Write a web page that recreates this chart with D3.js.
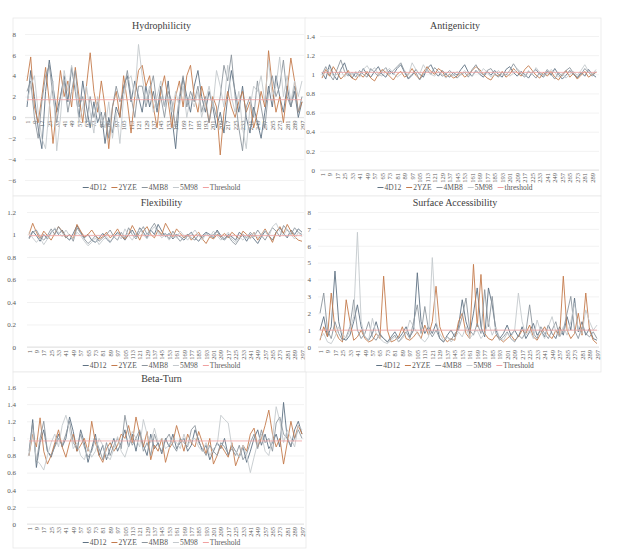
<!DOCTYPE html>
<html>
<head>
<meta charset="utf-8">
<script src="https://cdn.jsdelivr.net/npm/d3@7"></script>
<style>
  body { margin: 0; background: #fff; }
  text { font-family: "Liberation Serif", "Times New Roman", serif; }
</style>
</head>
<body>
<div id="plot"></div>
<script>
var width = 636, height = 560;

var seriesNames = ["4D12", "2YZE", "4MB8", "5M98"];
var colors = ["#5f7283", "#c47a4c", "#8c959d", "#c4c9cd"];
var thresholdColor = "#f0a0a0";

var residues = d3.range(1, 298, 4);      // 1..297
var antiResidues = d3.range(1, 294, 4);  // 1..293
var xLabels = d3.range(1, 298, 8);
var antiLabels = d3.range(1, 290, 8);

// ---- Hydrophilicity
var hydro4D12 = [1.0, 4.5, 2.0, -1.0, -3.0, 2.5, 5.5, 3.0, 0.5, 2.0, 4.0, 1.5, 4.8, 2.5, 0.0,
  3.5, 1.0, -1.0, 1.5, -0.5, 0.5, -2.5, 0.0, -1.5, 1.0, 0.0, 3.0, 4.0, 1.5, 3.5,
  2.0, 0.5, 3.0, 1.0, 2.5, 0.5, 3.0, 1.0, 3.5, 0.0, -3.0, 1.5, 3.8, 2.0, 0.5,
  3.0, 4.5, 2.0, 0.5, 2.5, 1.0, -1.0, 0.5, -1.5, 2.0, 4.5, 2.5, 0.5, 3.0, 0.0,
  -1.5, 1.0, -0.5, -2.0, 0.5, 3.0, 1.0, 4.0, 2.0, 0.5, 3.0, 1.0, 2.5, 0.0, 1.5];
var hydro2YZE = [3.5, 5.8, 1.0, -0.5, 2.0, 4.8, 1.5, -2.5, 1.0, 4.5, 2.0, 3.5, 1.0, 4.8, 2.0,
  -0.5, 3.0, 6.2, 2.5, 0.5, 3.5, 1.0, -3.0, 1.0, 2.5, 0.0, 4.0, 1.5, -1.5, 2.0,
  4.5, 5.0, 3.0, 4.0, 1.0, -1.0, 2.5, 4.0, 1.5, -1.0, 2.0, 3.5, 1.0, 4.0, 5.0,
  2.0, 0.5, 3.0, 1.5, -0.5, 2.0, 1.0, -3.6, 0.5, 2.5, 1.0, 0.0, 1.5, 2.5, 0.5,
  1.5, -1.0, 0.5, 2.5, 1.0, 6.4, 3.0, 0.5, 2.0, -0.5, 2.5, 5.7, 3.5, 0.5, 1.5];
var hydro4MB8 = [2.5, 3.5, 0.0, -2.0, 1.5, 4.0, 5.0, 2.0, -0.5, 2.0, 3.5, 0.5, 2.5, 4.5, 1.0,
  2.0, -0.5, 2.0, 0.0, 1.5, -1.0, 0.5, -2.0, 1.0, 3.0, 1.5, 2.5, 4.5, 2.0, 0.0,
  3.0, 3.0, 1.0, 2.5, 4.0, 1.0, 2.0, 0.0, 2.5, 1.5, -1.0, 2.0, 4.0, 1.0, 2.5,
  1.5, 3.0, 0.5, 2.0, -0.5, 1.5, 0.0, 2.0, 5.0, 3.5, 6.0, 2.0, -1.0, -3.2, 1.0,
  2.0, 0.0, 3.5, 1.0, -1.0, 2.5, 4.0, 2.0, 3.0, 5.5, 2.0, 1.0, 3.0, 0.5, 2.0];
var hydro5M98 = [1.5, 3.0, 4.0, 0.5, -2.0, -3.0, 1.0, 3.5, -3.2, 0.0, 4.5, 2.5, 5.0, 3.0, -0.5,
  1.0, 3.0, 0.5, -1.5, 2.0, 0.0, -1.0, 1.5, -2.0, 0.5, -2.5, 2.0, 3.5, 4.0, 2.0,
  7.0, 4.0, 1.5, 3.0, 0.5, 2.0, 3.5, 1.0, 2.0, 0.5, 2.5, 1.0, 3.0, 0.0, 2.0,
  1.0, 2.5, 0.0, 1.5, 3.0, 1.0, 4.5, 3.0, 1.0, 5.0, 2.0, 0.5, 2.5, -1.0, -3.0,
  1.0, 3.0, 2.5, 4.0, 1.5, 5.5, 2.0, 3.0, 5.8, 2.0, 4.0, 1.5, 3.5, 2.0, 3.5];
var hydroThreshold = 1.7;

// ---- Antigenicity
var anti4D12 = [1.02, 0.95, 1.10, 1.00, 0.94, 1.05, 1.12, 1.00, 0.96, 1.02, 0.98, 1.06, 1.00, 0.97, 1.03,
  1.08, 1.00, 0.97, 1.04, 1.00, 1.06, 1.10, 1.02, 0.95, 0.99, 1.05, 1.00, 0.97, 1.06, 1.10,
  1.02, 0.98, 1.04, 1.00, 0.97, 1.02, 0.99, 1.05, 1.10, 1.02, 0.98, 1.04, 1.00, 0.97, 1.03,
  0.99, 1.04, 1.00, 0.97, 1.05, 1.08, 1.02, 0.98, 1.03, 1.00, 0.96, 1.02, 1.05, 1.00, 0.97,
  1.03, 0.99, 1.06, 1.00, 0.95, 0.99, 1.04, 1.00, 0.96, 1.02, 0.98, 1.05, 1.00, 0.97];
var anti2YZE = [0.96, 1.05, 0.98, 1.08, 1.02, 0.95, 0.99, 1.04, 0.96, 0.94, 1.00, 0.97, 1.03, 0.96, 0.93,
  1.00, 1.05, 1.02, 0.98, 0.94, 1.00, 1.03, 0.97, 1.00, 1.06, 0.99, 0.95, 1.02, 1.08, 1.03,
  1.00, 1.06, 1.03, 0.97, 1.00, 0.96, 0.98, 1.02, 0.97, 1.00, 1.04, 1.08, 1.05, 1.00, 0.96,
  0.94, 1.00, 0.98, 1.03, 0.97, 1.00, 1.06, 1.02, 0.98, 1.05, 1.09, 1.04, 0.99, 0.96, 1.02,
  0.98, 1.03, 0.97, 0.94, 1.00, 1.04, 0.97, 1.01, 0.95, 0.99, 1.03, 0.97, 1.00, 1.02];
var anti4MB8 = [1.00, 1.08, 1.00, 0.94, 1.05, 1.15, 1.03, 0.98, 1.02, 0.97, 1.04, 1.00, 0.97, 1.06, 1.02,
  0.98, 1.03, 1.07, 1.00, 1.04, 1.08, 1.12, 1.03, 0.96, 1.00, 1.02, 0.94, 1.00, 1.05, 1.00,
  1.07, 1.03, 0.98, 1.00, 1.04, 1.00, 0.96, 1.00, 1.02, 0.97, 1.05, 1.10, 1.03, 0.99, 1.04,
  1.06, 1.00, 0.97, 1.02, 0.99, 1.04, 1.11, 1.05, 1.00, 0.97, 1.03, 1.00, 0.96, 1.02, 0.99,
  1.05, 1.00, 0.95, 1.02, 0.98, 1.04, 1.07, 1.01, 0.97, 1.00, 1.06, 1.02, 0.98, 1.03];
var anti5M98 = [0.98, 1.02, 1.06, 0.98, 1.00, 1.04, 0.97, 1.02, 0.99, 1.03, 0.97, 1.05, 1.09, 1.03, 1.07,
  1.00, 0.98, 1.03, 1.06, 1.01, 0.97, 1.00, 1.04, 0.99, 1.12, 1.05, 1.00, 1.10, 1.03, 1.00,
  0.98, 1.03, 1.00, 0.96, 1.01, 0.98, 1.03, 0.99, 1.04, 1.00, 0.98, 1.03, 1.00, 1.06, 1.02,
  0.97, 1.00, 1.04, 0.99, 1.02, 0.98, 1.01, 1.06, 1.02, 0.98, 1.04, 1.00, 1.07, 1.02, 0.98,
  1.00, 1.05, 1.02, 0.97, 1.01, 0.96, 1.00, 1.03, 0.99, 1.04, 1.10, 1.03, 1.00, 1.05];
var antiThreshold = 1.02;

// ---- Flexibility
var flex4D12 = [0.97, 1.03, 0.99, 0.94, 1.00, 0.96, 1.02, 1.05, 1.00, 1.04, 0.98, 0.95, 1.01, 1.08, 1.02,
  0.97, 1.00, 0.95, 0.93, 0.97, 1.01, 0.96, 0.93, 0.98, 1.02, 0.99, 0.95, 1.00, 1.04, 0.98,
  1.06, 1.02, 0.97, 1.04, 1.00, 1.09, 1.03, 0.98, 1.01, 0.96, 1.00, 0.98, 0.95, 0.99, 1.02,
  0.97, 0.94, 0.99, 1.02, 1.00, 0.97, 1.04, 0.99, 0.96, 1.00, 0.98, 0.95, 1.02, 0.99, 0.94,
  1.00, 0.96, 0.92, 0.98, 1.03, 0.99, 0.95, 1.02, 1.06, 1.01, 0.97, 1.04, 1.00, 1.05, 1.02];
var flex2YZE = [1.00, 1.10, 1.02, 0.96, 1.03, 0.99, 0.95, 1.01, 1.07, 1.03, 0.97, 1.00, 0.96, 1.09, 1.03,
  0.98, 1.00, 1.04, 0.99, 0.96, 0.98, 1.02, 0.97, 1.00, 1.05, 0.99, 0.96, 1.00, 1.08, 1.02,
  0.95, 1.03, 1.07, 1.00, 0.97, 1.04, 1.00, 1.10, 1.04, 0.98, 1.05, 1.01, 0.97, 1.00, 0.95,
  0.99, 1.02, 0.96, 0.92, 0.98, 0.96, 1.00, 0.98, 1.01, 0.97, 1.02, 0.99, 0.96, 1.03, 1.00,
  0.97, 1.02, 0.95, 1.00, 1.05, 0.99, 0.93, 1.02, 1.07, 1.01, 1.09, 1.03, 0.98, 0.95, 0.94];
var flex4MB8 = [0.96, 1.02, 1.04, 0.98, 0.95, 0.99, 1.05, 1.00, 1.07, 1.02, 0.97, 1.00, 0.94, 1.06, 1.01,
  0.96, 0.92, 0.95, 0.99, 0.94, 0.97, 1.00, 1.04, 0.98, 0.95, 1.02, 0.97, 1.06, 1.00, 0.96,
  1.02, 1.07, 1.00, 1.05, 1.10, 1.03, 0.99, 1.01, 0.96, 1.03, 0.98, 0.94, 0.98, 1.00, 0.97,
  0.95, 1.00, 0.97, 1.01, 0.98, 1.00, 1.03, 0.97, 0.95, 0.99, 0.94, 0.91, 0.96, 1.00, 0.97,
  1.02, 0.98, 1.04, 0.99, 0.95, 1.01, 1.06, 1.03, 0.98, 1.08, 1.04, 1.00, 1.06, 1.02, 1.00];
var flex5M98 = [1.02, 0.97, 0.93, 0.97, 0.91, 0.96, 1.01, 1.06, 1.02, 0.98, 1.04, 0.99, 0.96, 1.02, 0.99,
  0.94, 0.90, 0.93, 0.97, 0.91, 0.95, 0.98, 0.94, 0.97, 1.01, 0.96, 1.05, 0.99, 0.95, 1.01,
  1.05, 1.00, 0.96, 1.03, 1.07, 1.01, 0.97, 1.00, 0.95, 1.00, 0.97, 1.03, 0.99, 0.95, 1.00,
  1.04, 0.99, 0.95, 1.01, 0.98, 1.03, 0.99, 0.95, 0.98, 1.02, 0.96, 0.93, 0.98, 0.95, 0.99,
  0.96, 1.02, 0.97, 1.00, 1.04, 0.98, 1.07, 1.10, 1.03, 0.99, 1.05, 1.00, 0.96, 1.02, 0.98];
var flexThreshold = 0.99;

// ---- Surface Accessibility
var surf4D12 = [1.0, 1.8, 0.6, 1.2, 4.5, 1.5, 0.5, 0.4, 0.7, 1.5, 2.5, 1.2, 0.6, 0.4, 0.8,
  1.5, 0.7, 0.5, 0.3, 0.6, 0.9, 0.5, 0.8, 1.2, 0.6, 1.0, 4.4, 1.5, 0.8, 1.2,
  0.8, 1.4, 0.5, 0.3, 0.7, 1.0, 0.6, 1.2, 2.8, 1.5, 0.8, 2.0, 3.5, 1.2, 0.6,
  3.5, 2.5, 1.0, 0.5, 0.8, 1.3, 0.7, 1.0, 0.6, 1.2, 0.5, 0.9, 1.4, 0.7, 1.0,
  0.6, 1.3, 0.8, 0.5, 1.2, 0.7, 1.8, 1.0, 2.9, 0.9, 1.5, 0.7, 1.1, 0.5, 0.4];
var surf2YZE = [0.4, 1.2, 0.6, 3.2, 1.0, 0.5, 0.3, 2.8, 1.5, 0.4, 0.6, 1.0, 0.5, 0.3, 0.4,
  0.8, 0.5, 4.2, 1.0, 0.3, 0.4, 0.6, 1.2, 0.5, 0.4, 0.6, 0.9, 0.5, 1.3, 0.7,
  1.5, 3.6, 1.2, 0.6, 0.3, 0.5, 0.4, 1.5, 2.0, 0.8, 0.5, 4.9, 1.2, 4.3, 0.8,
  0.5, 0.4, 0.7, 0.5, 0.3, 0.5, 0.7, 0.4, 0.6, 1.0, 0.8, 1.3, 0.6, 0.4, 0.8,
  1.2, 0.7, 0.5, 1.0, 0.6, 4.2, 1.0, 0.5, 0.8, 2.0, 0.7, 3.2, 1.0, 0.4, 0.2];
var surf4MB8 = [2.0, 3.2, 1.0, 0.5, 1.5, 0.8, 0.4, 0.6, 1.2, 2.8, 1.0, 0.5, 0.8, 1.5, 0.6,
  0.4, 0.8, 0.5, 0.3, 0.5, 0.7, 0.3, 0.6, 0.9, 0.5, 1.5, 2.5, 0.8, 2.4, 1.0,
  0.6, 1.0, 0.5, 0.3, 0.6, 0.4, 0.8, 1.0, 1.8, 2.9, 1.0, 0.7, 1.4, 0.8, 3.4,
  1.2, 3.0, 0.8, 0.4, 0.6, 0.9, 0.5, 0.3, 0.7, 0.5, 0.9, 2.5, 0.8, 0.5, 1.2,
  0.8, 0.5, 1.0, 1.5, 0.6, 1.0, 2.0, 3.0, 1.0, 0.5, 1.2, 0.8, 0.6, 0.9, 0.5];
var surf5M98 = [0.5, 0.8, 0.3, 0.2, 0.6, 1.2, 0.8, 0.5, 1.0, 1.8, 6.8, 1.5, 0.6, 0.4, 1.7,
  0.8, 0.5, 0.3, 0.2, 0.4, 0.6, 0.3, 0.5, 0.8, 1.6, 1.2, 0.8, 0.5, 0.3, 0.6,
  5.3, 1.5, 0.8, 0.4, 0.6, 0.3, 0.5, 0.9, 0.6, 1.2, 0.5, 0.8, 1.0, 0.5, 0.8,
  1.5, 0.7, 1.2, 0.5, 0.4, 0.8, 0.6, 1.0, 3.2, 1.5, 0.7, 1.0, 0.5, 1.6, 0.9,
  0.5, 1.2, 1.8, 0.9, 0.6, 1.2, 0.7, 1.5, 2.6, 1.0, 0.8, 2.2, 1.5, 1.0, 1.3];
var surfThreshold = 1.0;

// ---- Beta-Turn
var beta4D12 = [0.80, 1.22, 0.66, 0.95, 1.10, 0.85, 0.78, 0.92, 1.05, 0.90, 1.00, 1.25, 1.08, 0.85, 1.10,
  0.95, 0.72, 0.88, 1.05, 0.80, 0.92, 0.75, 0.88, 1.00, 0.85, 0.95, 1.10, 0.90, 1.05, 0.85,
  1.08, 0.92, 0.80, 1.05, 0.88, 0.95, 0.82, 1.00, 0.90, 1.05, 0.88, 0.95, 1.00, 0.85, 0.92,
  1.10, 0.98, 0.85, 0.92, 0.75, 0.85, 0.95, 0.88, 1.00, 0.80, 0.92, 0.85, 0.78, 0.90, 0.72,
  0.85, 1.00, 1.10, 0.92, 1.05, 0.88, 0.95, 1.05, 0.90, 1.42, 1.00, 0.90, 1.10, 1.20, 1.05];
var beta2YZE = [0.80, 1.05, 0.90, 1.24, 0.85, 0.70, 0.80, 0.95, 1.10, 0.90, 0.78, 0.95, 1.05, 0.85, 0.92,
  1.00, 0.85, 1.20, 0.95, 0.80, 0.72, 0.88, 0.95, 0.85, 0.92, 1.05, 1.00, 1.15, 0.95, 1.25,
  1.05, 0.90, 1.08, 0.75, 0.92, 0.85, 1.00, 0.72, 0.88, 0.95, 1.15, 1.00, 0.85, 1.05, 0.95,
  0.90, 1.08, 0.95, 0.82, 1.00, 0.70, 0.80, 0.92, 0.85, 0.78, 0.95, 0.68, 0.80, 0.92, 0.85,
  1.05, 1.12, 0.90, 1.00, 1.15, 1.33, 1.05, 0.90, 1.00, 0.70, 0.95, 1.20, 1.00, 1.15, 1.05];
var beta4MB8 = [0.85, 1.18, 0.72, 1.00, 1.20, 0.85, 0.80, 0.90, 1.00, 0.92, 1.05, 1.20, 0.95, 0.88, 1.05,
  0.90, 0.78, 0.85, 1.00, 0.88, 0.75, 0.95, 0.80, 0.92, 1.00, 0.88, 1.27, 1.05, 0.92, 1.00,
  1.10, 0.85, 0.95, 0.80, 1.05, 0.92, 0.85, 0.98, 1.05, 0.92, 0.85, 1.00, 0.95, 0.90, 1.10,
  1.15, 0.95, 0.88, 0.80, 0.92, 0.85, 0.80, 0.95, 0.90, 0.82, 0.88, 0.80, 0.92, 0.75, 0.82,
  0.95, 1.05, 0.88, 1.10, 0.95, 1.00, 0.85, 1.18, 1.25, 1.05, 1.00, 0.92, 1.00, 1.10, 1.00];
var beta5M98 = [0.80, 1.10, 0.75, 0.70, 0.63, 0.80, 0.95, 1.05, 0.90, 1.15, 1.27, 1.10, 0.88, 0.95, 0.80,
  0.75, 0.90, 0.78, 0.85, 1.00, 0.92, 0.80, 0.75, 0.88, 1.02, 0.85, 0.78, 0.92, 1.08, 1.00,
  0.90, 1.22, 1.05, 0.95, 1.12, 0.95, 1.00, 0.88, 0.92, 1.00, 0.95, 0.88, 1.05, 0.92, 0.98,
  1.00, 0.90, 0.85, 0.95, 0.80, 0.88, 0.92, 1.27, 1.22, 1.18, 0.90, 0.85, 0.78, 0.92, 0.80,
  0.60, 0.78, 0.95, 1.05, 0.85, 0.80, 1.00, 1.37, 1.20, 0.95, 1.10, 1.00, 0.90, 1.15, 1.10];
var betaThreshold = 0.97;

// panel layout (chart boxes like the spreadsheet export)
var panels = [
  { title: "Hydrophilicity", box: [13, 18, 293, 178], titleY: 29,
    px: [27, 302], py: [180, 34], yDomain: [-6, 8], yTicks: d3.range(-6, 9, 2), fmt: d3.format("d"),
    labelX: 18, xAxisAt: 0, legendY: 190, thName: "Threshold",
    x: residues, labels: xLabels, domainX: [1, 297],
    series: [hydro4D12, hydro2YZE, hydro4MB8, hydro5M98], threshold: hydroThreshold },
  { title: "Antigenicity", box: [305, 18, 296, 178], titleY: 29,
    px: [322, 597], py: [170, 36], yDomain: [0, 1.4], yTicks: d3.range(0, 1.41, 0.2), fmt: d3.format(".1~f"),
    labelX: 317, xAxisAt: 0, legendY: 190, thName: "threshold",
    x: antiResidues, labels: antiLabels, domainX: [1, 294],
    series: [anti4D12, anti2YZE, anti4MB8, anti5M98], threshold: antiThreshold },
  { title: "Flexibility", box: [13, 196, 293, 176], titleY: 206,
    px: [29, 302], py: [347, 212], yDomain: [0, 1.2], yTicks: d3.range(0, 1.21, 0.2), fmt: d3.format(".1~f"),
    labelX: 18, xAxisAt: 0, legendY: 368, thName: "Threshold",
    x: residues, labels: xLabels, domainX: [1, 297],
    series: [flex4D12, flex2YZE, flex4MB8, flex5M98], threshold: flexThreshold },
  { title: "Surface Accessibility", box: [305, 196, 296, 176], titleY: 206,
    px: [320, 597], py: [347, 212], yDomain: [0, 8], yTicks: d3.range(0, 9, 1), fmt: d3.format("d"),
    labelX: 313, xAxisAt: 0, legendY: 368, thName: "Threshold",
    x: residues, labels: xLabels, domainX: [1, 297],
    series: [surf4D12, surf2YZE, surf4MB8, surf5M98], threshold: surfThreshold },
  { title: "Beta-Turn", box: [13, 372, 293, 176], titleY: 382,
    px: [29, 302], py: [524, 387], yDomain: [0, 1.6], yTicks: d3.range(0, 1.61, 0.2), fmt: d3.format(".1~f"),
    labelX: 18, xAxisAt: 0, legendY: 545, thName: "Threshold",
    x: residues, labels: xLabels, domainX: [1, 297],
    series: [beta4D12, beta2YZE, beta4MB8, beta5M98], threshold: betaThreshold }
];

var svg = d3.select("#plot").append("svg")
  .attr("width", width).attr("height", height);

function drawPanel(p) {
  var g = svg.append("g");
  var x = d3.scaleLinear().domain(p.domainX).range(p.px);
  var y = d3.scaleLinear().domain(p.yDomain).range(p.py);

  g.append("rect")
    .attr("x", p.box[0]).attr("y", p.box[1])
    .attr("width", p.box[2]).attr("height", p.box[3])
    .attr("fill", "#fff").attr("stroke", "#e8e8e8").attr("stroke-width", 0.8);

  g.append("text").text(p.title)
    .attr("x", p.box[0] + p.box[2] / 2 + 2).attr("y", p.titleY)
    .attr("text-anchor", "middle").attr("font-size", "10px").attr("fill", "#404040");

  // horizontal gridlines + y labels
  var yAxis = d3.axisLeft(y).tickValues(p.yTicks).tickFormat(p.fmt)
    .tickSize(-(p.px[1] - p.px[0] + 4)).tickPadding(p.px[0] - p.labelX);
  var ya = g.append("g").attr("transform", "translate(" + (p.px[0] - 2) + ",0)").call(yAxis);
  ya.select(".domain").remove();
  ya.selectAll("line").attr("stroke", "#ececec").attr("stroke-width", 0.7);
  ya.selectAll("text").attr("font-family", "Liberation Serif, serif")
    .attr("font-size", "7px").attr("fill", "#595959");

  // category axis at zero, labels rotated
  var xAxis = d3.axisBottom(x).tickValues(p.labels).tickSize(0).tickPadding(2);
  var xa = g.append("g").attr("transform", "translate(0," + y(p.xAxisAt) + ")").call(xAxis);
  xa.select(".domain").attr("stroke", "#d9d9d9").attr("stroke-width", 0.7)
    .attr("d", "M" + (p.px[0] - 2) + ",0H" + (p.px[1] + 2));
  xa.selectAll("text")
    .attr("font-family", "Liberation Serif, serif").attr("font-size", "6.5px").attr("fill", "#595959")
    .attr("text-anchor", "end").attr("dy", "0.32em")
    .attr("transform", "translate(0,2) rotate(-90)")
    .attr("x", -1).attr("y", 0);

  var line = d3.line()
    .x(function(d, i) { return x(p.x[i]); })
    .y(function(d) { return y(d); });

  p.series.forEach(function(s, k) {
    g.append("path").datum(s)
      .attr("d", line)
      .attr("fill", "none")
      .attr("stroke", colors[k])
      .attr("stroke-width", 0.9)
      .attr("stroke-linejoin", "round");
  });

  g.append("line")
    .attr("x1", x(p.domainX[0])).attr("x2", x(p.domainX[1]))
    .attr("y1", y(p.threshold)).attr("y2", y(p.threshold))
    .attr("stroke", thresholdColor).attr("stroke-width", 0.8);

  // legend
  var names = seriesNames.concat([p.thName]);
  var cols = colors.concat([thresholdColor]);
  var lg = g.append("g");
  var cx = 0;
  names.forEach(function(n, k) {
    var it = lg.append("g").attr("transform", "translate(" + cx + ",0)");
    it.append("line").attr("x1", 0).attr("x2", 6).attr("y1", -2.5).attr("y2", -2.5)
      .attr("stroke", cols[k]).attr("stroke-width", 1);
    var t = it.append("text").text(n).attr("x", 7).attr("y", 0)
      .attr("font-size", "7.5px").attr("fill", "#595959");
    cx += 7 + t.node().getComputedTextLength() + 5;
  });
  var lw = cx - 5;
  lg.attr("transform", "translate(" + (p.box[0] + p.box[2] / 2 + 2 - lw / 2) + "," + p.legendY + ")");
}

panels.forEach(drawPanel);
</script>
</body>
</html>
